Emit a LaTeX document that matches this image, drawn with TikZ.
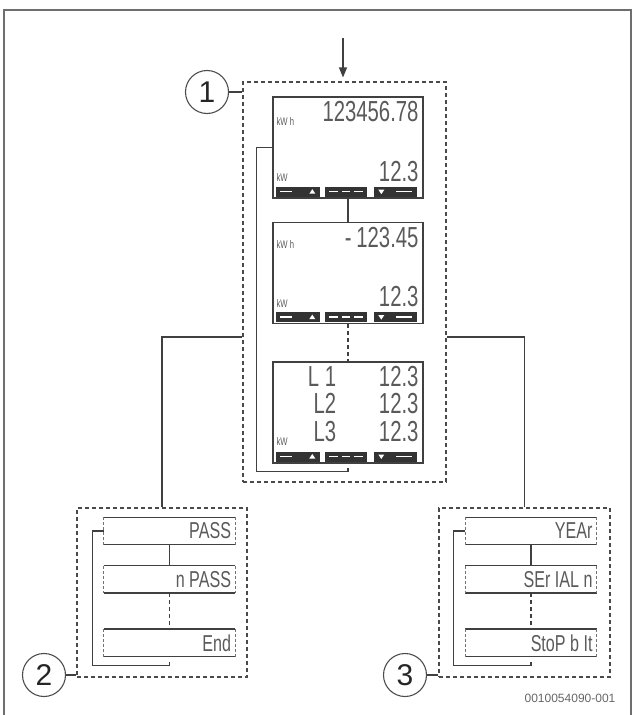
\documentclass[tikz,border=0pt]{standalone}
\usepackage{fontspec}
\setmainfont{Liberation Sans}
\newfontfamily\lcdfont[FakeStretch=0.7]{Liberation Sans}
\usetikzlibrary{positioning,arrows.meta}

\definecolor{framegray}{HTML}{6E6E6E}
\definecolor{linegray}{HTML}{4A4A4A}
\definecolor{lcdtext}{HTML}{5A5A5A}
\definecolor{bardark}{HTML}{333333}

\tikzset{
  frameline/.style={draw=framegray, line width=1.6pt},
  groupbox/.style={draw=linegray, line width=1.1pt, dash pattern=on 4pt off 3pt, inner sep=0pt},
  display/.style={draw=black!75, line width=1.4pt, minimum width=150pt, minimum height=101pt, inner sep=0pt},
  smalldisp/.style={minimum width=131pt, minimum height=27pt, inner sep=0pt},
  dispedge/.style={draw=black!75, line width=1.4pt},
  dispside/.style={draw=black!55, line width=1pt, dash pattern=on 3pt off 2pt},
  link/.style={draw=black!75, line width=1.2pt},
  linkdash/.style={link, dash pattern=on 4pt off 3pt},
  callout/.style={circle, draw=black!70, line width=1.1pt, minimum size=43pt, inner sep=0pt,
    font=\fontsize{30}{30}\selectfont, text=black!85},
  bigdig/.style={font=\lcdfont\fontsize{29}{29}\selectfont, text=lcdtext, inner sep=0pt},
  smalltext/.style={font=\lcdfont\fontsize{23}{23}\selectfont, text=lcdtext, inner sep=0pt},
  unit/.style={font=\lcdfont\fontsize{11}{11}\selectfont, text=lcdtext, inner sep=0pt}
}

% key bar at the foot of a meter display
\newcommand{\keybar}[1]{%
  \begin{scope}[shift={(#1.south west)}]
    \fill[bardark] (4,-2) rectangle (48,-12);
    \fill[bardark] (53,-2) rectangle (95,-12);
    \fill[bardark] (102,-2) rectangle (145,-12);
    \draw[white, line width=1.4pt] (8,-7) -- (20,-7);
    \fill[white] (37,-5) -- (43,-5) -- (40,-9.5) -- cycle;
    \draw[white, line width=1.4pt] (57,-7) -- (66,-7);
    \draw[white, line width=1.4pt] (70,-7) -- (78,-7);
    \draw[white, line width=1.4pt] (82,-7) -- (91,-7);
    \fill[white] (106,-9) -- (112,-9) -- (109,-4.5) -- cycle;
    \draw[white, line width=1.4pt] (124,-7) -- (140,-7);
  \end{scope}}

\begin{document}
\begin{tikzpicture}[x=1pt, y=-1pt]
  \useasboundingbox (0,0) rectangle (634,715);
  \draw[frameline] (4,720) -- (4,10) -- (631,10) -- (631,720);

  % group boxes
  \node[groupbox, minimum width=203pt, minimum height=400pt] (grp1) at (344.5,282) {};
  \node[groupbox, minimum width=170pt, minimum height=169pt] (grp2) at (162,592.5) {};
  \node[groupbox, minimum width=171pt, minimum height=169pt] (grp3) at (524.5,592.5) {};

  % meter displays
  \node[display] (disp1) at (348,147.5) {};
  \node[display, below=23pt of disp1] (disp2) {};
  \node[display, below=37pt of disp2] (disp3) {};

  \node[unit, anchor=west] (u1) at ([xshift=4pt,yshift=-25pt]disp1.north west) {kW h};
  \node[bigdig, anchor=north east] (e1) at ([xshift=-5pt,yshift=-5pt]disp1.north east) {123456.78};
  \node[unit, anchor=west] (u2) at ([xshift=4pt,yshift=21pt]disp1.south west) {kW};
  \node[bigdig, anchor=south east] (p1) at ([xshift=-5pt,yshift=17pt]disp1.south east) {12.3};

  \node[unit, anchor=west] (u3) at ([xshift=4pt,yshift=-23pt]disp2.north west) {kW h};
  \node[bigdig, anchor=north east] (e2) at ([xshift=-5pt,yshift=-5pt]disp2.north east) {-\,123.45};
  \node[unit, anchor=west] (u4) at ([xshift=4pt,yshift=21pt]disp2.south west) {kW};
  \node[bigdig, anchor=south east] (p2) at ([xshift=-5pt,yshift=17pt]disp2.south east) {12.3};

  \node[bigdig, anchor=north east] (l1) at ([xshift=64pt,yshift=-5pt]disp3.north west) {L 1};
  \node[bigdig, anchor=north east] (l2) at ([yshift=-7pt]l1.south east) {L2};
  \node[bigdig, anchor=north east] (l3) at ([yshift=-7pt]l2.south east) {L3};
  \node[bigdig, anchor=east] (v1) at ([xshift=-5pt]disp3.east |- l1.east) {12.3};
  \node[bigdig, anchor=east] (v2) at ([xshift=-5pt]disp3.east |- l2.east) {12.3};
  \node[bigdig, anchor=east] (v3) at ([xshift=-5pt]disp3.east |- l3.east) {12.3};
  \node[unit, anchor=west] (u5) at ([xshift=4pt,yshift=22pt]disp3.south west) {kW};

  \keybar{disp1}
  \keybar{disp2}
  \keybar{disp3}

  \draw[link] (disp1) -- (disp2);
  \draw[linkdash] (disp2) -- (disp3);
  \draw[link] (disp1.west) -- ++(-16,0) |- ([yshift=-8pt]disp3.south) -- ++(0,-4);

  % settings displays
  \node[smalldisp] (pass) at (169.5,531) {};
  \node[smalldisp, below=21pt of pass] (npass) {};
  \node[smalldisp, below=36pt of npass] (pend) {};
  \node[smalldisp] (year) at (531,531) {};
  \node[smalldisp, below=21pt of year] (serial) {};
  \node[smalldisp, below=36pt of serial] (stopbit) {};

  \foreach \n in {pass,npass,pend,year,serial,stopbit} {
    \draw[dispedge] (\n.north west) -- (\n.north east);
    \draw[dispedge] (\n.south west) -- (\n.south east);
    \draw[dispside] (\n.north west) -- (\n.south west);
    \draw[dispside] (\n.north east) -- (\n.south east);
  }

  \node[smalltext, anchor=east] (t1) at ([xshift=-4pt]pass.east) {PASS};
  \node[smalltext, anchor=east] (t2) at ([xshift=-4pt]npass.east) {n PASS};
  \node[smalltext, anchor=east] (t3) at ([xshift=-4pt]pend.east) {End};
  \node[smalltext, anchor=east] (t4) at ([xshift=-4pt]year.east) {YEAr};
  \node[smalltext, anchor=east] (t5) at ([xshift=-4pt]serial.east) {SEr IAL n};
  \node[smalltext, anchor=east] (t6) at ([xshift=-4pt]stopbit.east) {StoP b It};

  \draw[link] (pass) -- (npass);
  \draw[linkdash] (npass) -- (pend);
  \draw[link] (pass.west) -- ++(-11,0) |- ([yshift=-9pt]pend.south) -- ++(0,-4);
  \draw[link] (year) -- (serial);
  \draw[linkdash] (serial) -- (stopbit);
  \draw[link] (year.west) -- ++(-12,0) |- ([yshift=-9pt]stopbit.south) -- ++(0,-4);

  % branches and entry arrow
  \coordinate (split) at (344.5,337);
  \draw[link] (grp1.west |- split) -| (grp2.north);
  \draw[link] (grp1.east |- split) -| (grp3.north);
  \coordinate (feed) at (343,38);
  \draw[link, -{Triangle[width=8pt,length=10pt]}, shorten >=4pt] (feed) -- (feed |- grp1.north);

  % callouts
  \node[callout] (c1) at (207,92) {1};
  \node[callout] (c2) at (44,675) {2};
  \node[callout] (c3) at (405,675) {3};
  \draw[link] (c1.east) -- (c1.east -| grp1.west);
  \draw[link] (c2.east) -- (c2.east -| grp2.west);
  \draw[link] (c3.east) -- (c3.east -| grp3.west);

  \node[font=\fontsize{12}{12}\selectfont, text=black!60] (docid) at (570,698) {0010054090-001};
\end{tikzpicture}
\end{document}
